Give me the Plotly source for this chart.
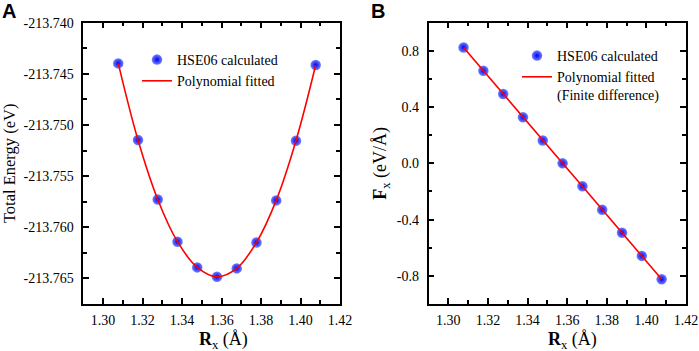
import plotly.graph_objects as go

# ---- data ----
rx = [1.3077, 1.3177, 1.3277, 1.3377, 1.3477, 1.3577, 1.3677, 1.3777, 1.3877, 1.3977, 1.4077]
energy = [-213.74398, -213.75147, -213.75728, -213.76141, -213.76392, -213.76484,
          -213.76402, -213.76148, -213.75737, -213.75154, -213.74414]
force = [0.824, 0.658, 0.493, 0.328, 0.163, 0.0, -0.163, -0.330, -0.493, -0.658, -0.824]

x_tick_vals = [1.30, 1.32, 1.34, 1.36, 1.38, 1.40, 1.42]
x_tick_text = ["1.30", "1.32", "1.34", "1.36", "1.38", "1.40", "1.42"]
ya_tick_vals = [-213.740, -213.745, -213.750, -213.755, -213.760, -213.765]
ya_tick_text = ["-213.740", "-213.745", "-213.750", "-213.755", "-213.760", "-213.765"]
yb_tick_vals = [0.8, 0.4, 0.0, -0.4, -0.8]
yb_tick_text = ["0.8", "0.4", "0.0", "-0.4", "-0.8"]

name_calc = "HSE06 calculated"
name_fit_a = "Polynomial fitted"
name_fit_b = "Polynomial fitted<br>(Finite difference)"

SERIF = '"Liberation Serif", "Times New Roman", serif'
SANS = '"Liberation Sans", Arial, sans-serif'
RED = "#ff0000"

marker_style = dict(size=10.5, color="#7484ff",
                    gradient=dict(type="radial", color="#0000f0"),
                    line=dict(width=0))

fig = go.Figure()
fig.add_trace(go.Scatter(x=rx, y=energy, mode="markers", name=name_calc,
                         marker=marker_style, xaxis="x", yaxis="y", legend="legend"))
fig.add_trace(go.Scatter(x=rx, y=energy, mode="lines", name=name_fit_a,
                         line=dict(color=RED, width=1.6, shape="spline", smoothing=1.0),
                         xaxis="x", yaxis="y", legend="legend"))
fig.add_trace(go.Scatter(x=rx, y=force, mode="markers", name=name_calc,
                         marker=marker_style, xaxis="x2", yaxis="y2", legend="legend2"))
fig.add_trace(go.Scatter(x=rx, y=force, mode="lines", name=name_fit_b,
                         line=dict(color=RED, width=1.6),
                         xaxis="x2", yaxis="y2", legend="legend2"))

ax_common = dict(showline=True, linecolor="black", linewidth=1.5, mirror="allticks",
                 ticks="inside", ticklen=6, tickwidth=1.5, tickcolor="black",
                 showgrid=False, zeroline=False, automargin=False,
                 tickfont=dict(family=SERIF, size=14, color="black"))

xdom_a = [83.3 / 699, 340 / 699]
xdom_b = [428.5 / 699, 686 / 699]
ydom = [1 - 304 / 351, 1 - 22.7 / 351]

xaxis_cfg = dict(range=[1.29, 1.42], tickmode="array", tickvals=x_tick_vals, ticktext=x_tick_text,
                 ticklabelstandoff=2,
                 minor=dict(ticks="inside", ticklen=4, tickwidth=1.5, tickcolor="black",
                            tick0=1.29, dtick=0.01),
                 **ax_common)

fig.update_layout(
    width=699, height=351,
    margin=dict(l=0, r=0, t=0, b=0, autoexpand=False),
    paper_bgcolor="white", plot_bgcolor="white",
    font=dict(family=SERIF, color="black"),
    xaxis=dict(domain=xdom_a, anchor="y", **xaxis_cfg),
    xaxis2=dict(domain=xdom_b, anchor="y2", **xaxis_cfg),
    yaxis=dict(domain=ydom, anchor="x", range=[-213.7675, -213.740],
               tickmode="array", tickvals=ya_tick_vals, ticktext=ya_tick_text,
               ticklabelstandoff=5,
               minor=dict(ticks="inside", ticklen=4, tickwidth=1.5, tickcolor="black",
                          tick0=-213.740, dtick=0.0025),
               title=dict(text="Total Energy (eV)", font=dict(family=SERIF, size=16.5), standoff=9),
               **ax_common),
    yaxis2=dict(domain=ydom, anchor="x2", range=[-1.0, 1.0],
                tickmode="array", tickvals=yb_tick_vals, ticktext=yb_tick_text,
                ticklabelstandoff=5,
                minor=dict(ticks="inside", ticklen=4, tickwidth=1.5, tickcolor="black",
                           tick0=0, dtick=0.2),
                title=dict(text="<b>F</b><sub>x</sub> (eV/Å)", font=dict(family=SERIF, size=18), standoff=5),
                **ax_common),
    legend=dict(x=137 / 699, y=1 - 44 / 351, xanchor="left", yanchor="top",
                bgcolor="rgba(0,0,0,0)", font=dict(family=SERIF, size=14),
                tracegroupgap=0, itemwidth=30),
    legend2=dict(x=517 / 699, y=1 - 40 / 351, xanchor="left", yanchor="top",
                 bgcolor="rgba(0,0,0,0)", font=dict(family=SERIF, size=14),
                 tracegroupgap=0, itemwidth=30, valign="top"),
    showlegend=True,
    annotations=[
        dict(text="<b>A</b>", x=0, y=1, xref="paper", yref="paper", xanchor="left",
             yanchor="top", showarrow=False, yshift=2,
             font=dict(family=SANS, size=20, color="black")),
        dict(text="<b>B</b>", x=369 / 699, y=1, xref="paper", yref="paper", xanchor="left",
             yanchor="top", showarrow=False, yshift=2,
             font=dict(family=SANS, size=20, color="black")),
        dict(text="<b>R</b><sub>x</sub> (Å)", x=223 / 699, y=1 - 340 / 351, xref="paper",
             yref="paper", xanchor="center", yanchor="middle", showarrow=False,
             font=dict(family=SERIF, size=18, color="black")),
        dict(text="<b>R</b><sub>x</sub> (Å)", x=572 / 699, y=1 - 340 / 351, xref="paper",
             yref="paper", xanchor="center", yanchor="middle", showarrow=False,
             font=dict(family=SERIF, size=18, color="black")),
    ],
)

fig.write_html(
    "out.html",
    config={"displayModeBar": False},
    post_script="document.body.style.margin='0px';document.body.style.overflow='hidden';",
)
